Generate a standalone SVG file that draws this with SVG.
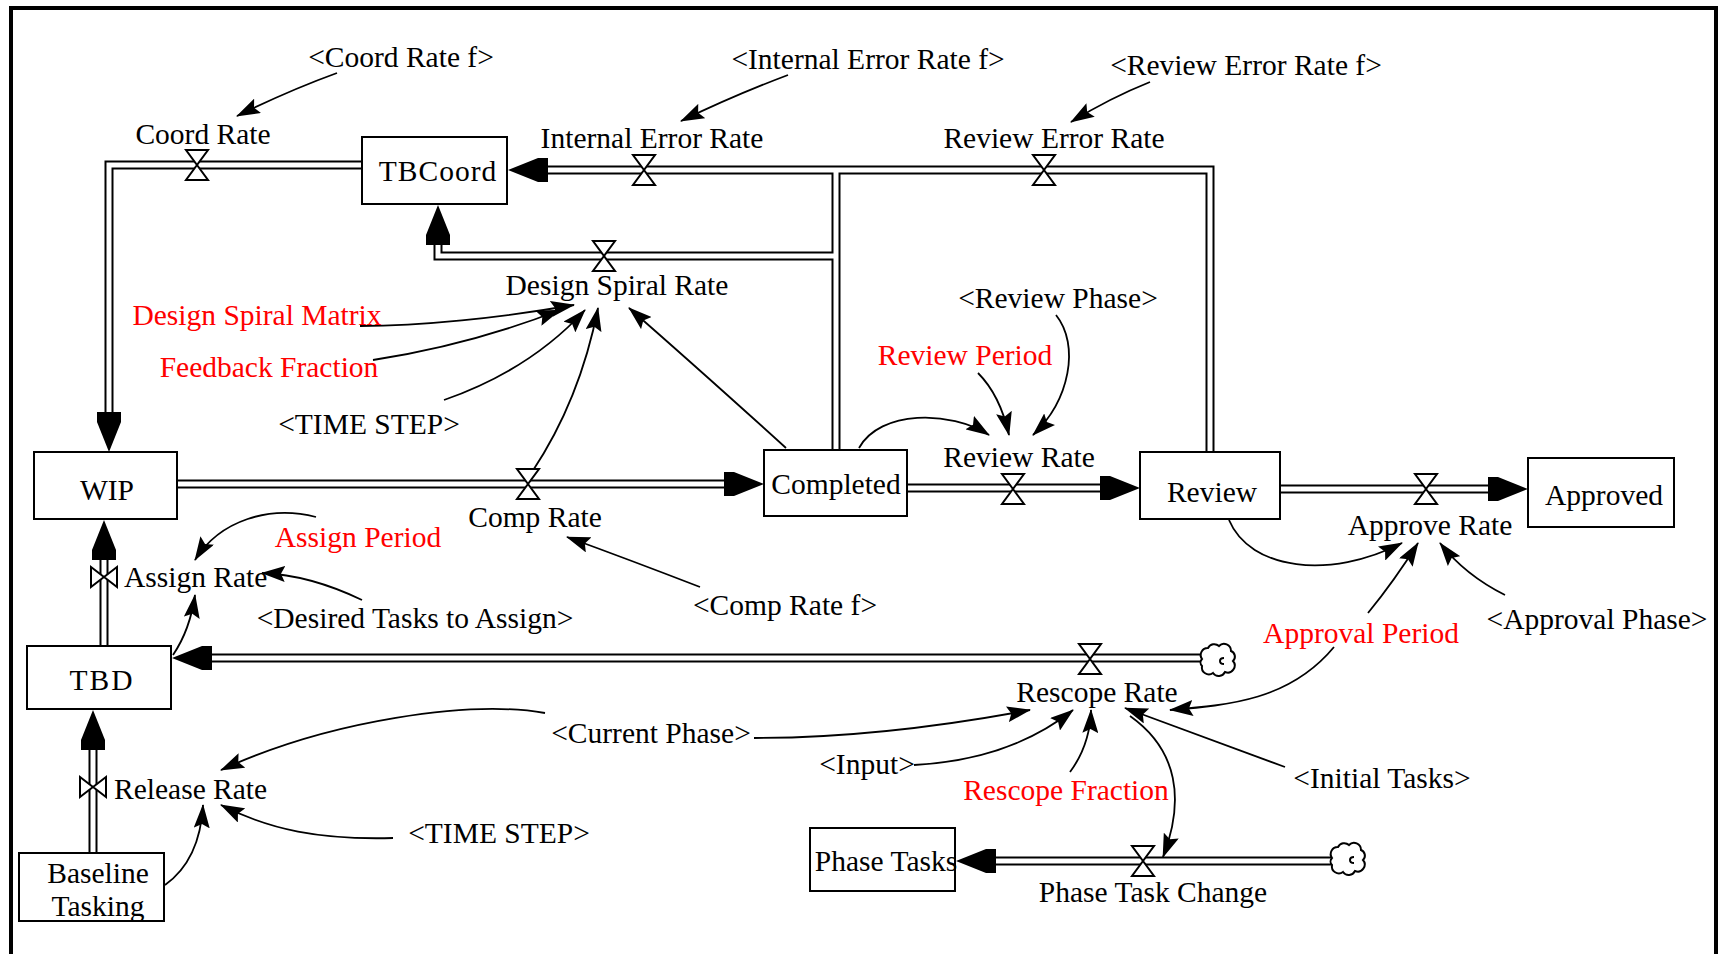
<svg xmlns="http://www.w3.org/2000/svg" width="1723" height="954" viewBox="0 0 1723 954">
<style>
.box{fill:#fff;stroke:#000;stroke-width:2}
.t{font-family:"Liberation Serif","Times New Roman",serif;font-size:29.5px;fill:#000;text-anchor:middle}
.s{text-anchor:start}
.r{fill:#ff0000}
.po{fill:none;stroke:#000;stroke-width:9}
.pi{fill:none;stroke:#fff;stroke-width:5}
.lk{fill:none;stroke:#000;stroke-width:1.8;marker-end:url(#ah)}
.vl{fill:#fff;stroke:#000;stroke-width:2;stroke-linejoin:miter}
.cl{fill:#fff;stroke:#000;stroke-width:2}
</style>
<defs>
<marker id="ah" viewBox="0 0 24 16" refX="23" refY="8" markerWidth="24" markerHeight="16" markerUnits="userSpaceOnUse" orient="auto"><path d="M0,0 L24,8 L0,16 L4,8 Z" fill="#000"/></marker>
<path id="fa" d="M0,0 L-30,-12 L-40,-12 L-40,12 L-30,12 Z" fill="#000"/>
<path id="vh" d="M-11,-15 L11,-15 L-11,15 L11,15 Z"/>
<path id="vv" d="M-13,-10 L-13,10 L13,-10 L13,10 Z"/>
<path id="cloud" d="M-16,-2 a7,7 0 0 1 6,-11 a7,7 0 0 1 11,-2 a7,7 0 0 1 12,5 a6,6 0 0 1 2,10 a7,7 0 0 1 -8,11 a7,7 0 0 1 -12,1 a7,7 0 0 1 -11,-7 a5,5 0 0 1 0,-7 Z M6,-3 q-4,0 -4,3 q0,3 4,3"/>
</defs>
<rect width="1723" height="954" fill="#fff"/>
<path d="M11,960 L11,8 L1716,8 L1716,960" fill="none" stroke="#000" stroke-width="4"/>

<g id="flows">
<path class="po" d="M362,165 L109,165 L109,420 M1210,452 L1210,170 L548,170 M836,450 L836,170 M836,256 L438,256 L438,243 M177,484 L725,484 M907,488 L1100,488 M1280,489 L1490,489 M104,646 L104,560 M1202,658 L212,658 M93,853 L93,750 M1331,861 L996,861"/>
<path class="pi" d="M362,165 L109,165 L109,420 M1210,452 L1210,170 L548,170 M836,450 L836,170 M836,256 L438,256 L438,243 M177,484 L725,484 M907,488 L1100,488 M1280,489 L1490,489 M104,646 L104,560 M1202,658 L212,658 M93,853 L93,750 M1331,861 L996,861"/>
<use href="#fa" transform="translate(109,452) rotate(90)"/>
<use href="#fa" transform="translate(508,170) rotate(180)"/>
<use href="#fa" transform="translate(438,205) rotate(-90)"/>
<use href="#fa" transform="translate(764,484)"/>
<use href="#fa" transform="translate(1140,488)"/>
<use href="#fa" transform="translate(1528,489)"/>
<use href="#fa" transform="translate(104,520) rotate(-90)"/>
<use href="#fa" transform="translate(172,658) rotate(180)"/>
<use href="#fa" transform="translate(93,710) rotate(-90)"/>
<use href="#fa" transform="translate(956,861) rotate(180)"/>
<use href="#cloud" class="cl" transform="translate(1218,661)"/>
<use href="#cloud" class="cl" transform="translate(1348,860)"/>
</g>

<g id="connectors">
<path class="lk" d="M337,73 Q290,90 237,116"/>
<path class="lk" d="M788,75 Q735,95 681,121"/>
<path class="lk" d="M1150,82 Q1110,98 1071,122"/>
<path class="lk" d="M360,326 C420,326 500,318 574,305"/>
<path class="lk" d="M373,360 Q470,345 560,310"/>
<path class="lk" d="M444,400 Q530,370 585,310"/>
<path class="lk" d="M532,472 Q580,400 598,308"/>
<path class="lk" d="M786,448 Q700,370 629,308"/>
<path class="lk" d="M1056,315 C1080,345 1070,400 1033,435"/>
<path class="lk" d="M978,373 Q1000,395 1009,435"/>
<path class="lk" d="M859,448 C880,410 950,410 989,435"/>
<path class="lk" d="M1229,520 C1250,570 1330,580 1402,543"/>
<path class="lk" d="M1368,613 Q1395,580 1418,543"/>
<path class="lk" d="M1505,595 Q1465,575 1440,543"/>
<path class="lk" d="M1334,647 C1290,700 1230,705 1170,710"/>
<path class="lk" d="M700,587 Q630,560 567,537"/>
<path class="lk" d="M316,517 C270,505 220,520 195,560"/>
<path class="lk" d="M362,600 Q310,575 262,573"/>
<path class="lk" d="M173,655 Q190,630 195,595"/>
<path class="lk" d="M545,713 C470,700 330,720 221,770"/>
<path class="lk" d="M393,838 C320,840 270,830 221,805"/>
<path class="lk" d="M165,885 Q200,860 203,805"/>
<path class="lk" d="M754,738 C850,738 950,725 1030,710"/>
<path class="lk" d="M914,765 Q1010,760 1073,710"/>
<path class="lk" d="M1070,772 Q1090,745 1091,710"/>
<path class="lk" d="M1285,767 L1125,708"/>
<path class="lk" d="M1130,716 C1178,750 1185,800 1163,857"/>
</g>

<g id="TBCoord"><rect class="box" x="362" y="137" width="145" height="67"/><text class="t" x="438" y="181" letter-spacing="1">TBCoord</text></g>
<g id="WIP"><rect class="box" x="34" y="452" width="143" height="67"/><text class="t" x="107" y="500">WIP</text></g>
<g id="Completed"><rect class="box" x="764" y="450" width="143" height="66"/><text class="t" x="836" y="494">Completed</text></g>
<g id="Review"><rect class="box" x="1140" y="452" width="140" height="67"/><text class="t" x="1212" y="502">Review</text></g>
<g id="Approved"><rect class="box" x="1528" y="458" width="146" height="69"/><text class="t" x="1604" y="505">Approved</text></g>
<g id="TBD"><rect class="box" x="27" y="646" width="144" height="63"/><text class="t" x="102" y="690" letter-spacing="2">TBD</text></g>
<g id="BaselineTasking"><rect class="box" x="19" y="853" width="145" height="68"/><text class="t" x="98" y="883">Baseline</text><text class="t" x="98" y="916">Tasking</text></g>
<g id="PhaseTasks"><rect class="box" x="810" y="828" width="145" height="63"/><text class="t" x="886" y="871">Phase Tasks</text></g>

<g id="CoordRate"><use href="#vh" class="vl" x="197" y="165"/><text class="t" x="203" y="144">Coord Rate</text></g>
<g id="InternalErrorRate"><use href="#vh" class="vl" x="644" y="170"/><text class="t" x="652" y="148">Internal Error Rate</text></g>
<g id="ReviewErrorRate"><use href="#vh" class="vl" x="1044" y="170"/><text class="t" x="1054" y="148">Review Error Rate</text></g>
<g id="DesignSpiralRate"><use href="#vh" class="vl" x="604" y="256"/><text class="t" x="617" y="295">Design Spiral Rate</text></g>
<g id="CompRate"><use href="#vh" class="vl" x="528" y="484"/><text class="t" x="535" y="527">Comp Rate</text></g>
<g id="ReviewRate"><use href="#vh" class="vl" x="1013" y="489"/><text class="t" x="1019" y="467">Review Rate</text></g>
<g id="ApproveRate"><use href="#vh" class="vl" x="1426" y="489"/><text class="t" x="1430" y="535">Approve Rate</text></g>
<g id="AssignRate"><use href="#vv" class="vl" x="104" y="577"/><text class="t s" x="124" y="587">Assign Rate</text></g>
<g id="ReleaseRate"><use href="#vv" class="vl" x="93" y="787"/><text class="t s" x="114" y="799">Release Rate</text></g>
<g id="RescopeRate"><use href="#vh" class="vl" x="1090" y="659"/><text class="t" x="1097" y="702">Rescope Rate</text></g>
<g id="PhaseTaskChange"><use href="#vh" class="vl" x="1143" y="861"/><text class="t" x="1153" y="902">Phase Task Change</text></g>

<g id="CoordRateF"><text class="t" x="401" y="67">&lt;Coord Rate f&gt;</text></g>
<g id="InternalErrorRateF"><text class="t" x="868" y="69">&lt;Internal Error Rate f&gt;</text></g>
<g id="ReviewErrorRateF"><text class="t" x="1246" y="75">&lt;Review Error Rate f&gt;</text></g>
<g id="DesignSpiralMatrix"><text class="t r" x="257" y="325">Design Spiral Matrix</text></g>
<g id="FeedbackFraction"><text class="t r" x="269" y="377">Feedback Fraction</text></g>
<g id="TimeStep1"><text class="t" x="369" y="434">&lt;TIME STEP&gt;</text></g>
<g id="ReviewPhase"><text class="t" x="1058" y="308">&lt;Review Phase&gt;</text></g>
<g id="ReviewPeriod"><text class="t r" x="965" y="365">Review Period</text></g>
<g id="AssignPeriod"><text class="t r" x="358" y="547">Assign Period</text></g>
<g id="DesiredTasks"><text class="t" x="415" y="628">&lt;Desired Tasks to Assign&gt;</text></g>
<g id="CompRateF"><text class="t" x="785" y="615">&lt;Comp Rate f&gt;</text></g>
<g id="ApprovalPhase"><text class="t" x="1597" y="629">&lt;Approval Phase&gt;</text></g>
<g id="ApprovalPeriod"><text class="t r" x="1361" y="643">Approval Period</text></g>
<g id="CurrentPhase"><text class="t" x="651" y="743">&lt;Current Phase&gt;</text></g>
<g id="Input"><text class="t" x="867" y="774">&lt;Input&gt;</text></g>
<g id="InitialTasks"><text class="t" x="1382" y="788">&lt;Initial Tasks&gt;</text></g>
<g id="RescopeFraction"><text class="t r" x="1066" y="800">Rescope Fraction</text></g>
<g id="TimeStep2"><text class="t" x="499" y="843">&lt;TIME STEP&gt;</text></g>
</svg>
